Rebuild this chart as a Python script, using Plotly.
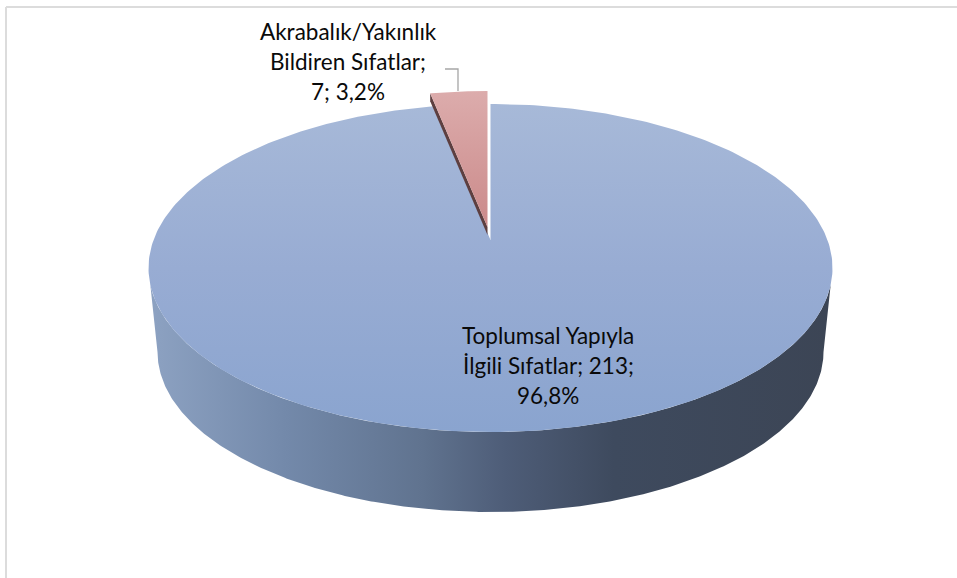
import numpy as np
import plotly.graph_objects as go

# --- data ---
category_lines = [
    ["Toplumsal Yapıyla", "İlgili Sıfatlar;"],
    ["Akrabalık/Yakınlık", "Bildiren Sıfatlar;"],
]
values = [213, 7]

# --- pie geometry (pixel-like axis units) ---
W, H = 957, 578
CX, TOP, BOTTOM, HALF_W = 490.5, 104, 432, 342
APEX_Y = 240
LOW_CY, LOW_RX, LOW_RY = 352, 333, 160
WALL_START_Y = 285
EXPLODE = (-3, -13)
THICK = 8

total = sum(values)
fractions = [v / total for v in values]

up, down = APEX_Y - TOP, BOTTOM - APEX_Y
k = (down - up) / (down + up)
B = up * (1 + k)
A = HALF_W * np.sqrt(1 - k * k)


def rim(theta):
    """Point on the tilted pie rim, theta clockwise from 12 o'clock."""
    X, Y = np.sin(theta), np.cos(theta)
    d = 1 + k * Y
    return CX + A * X / d, APEX_Y - B * Y / d


def wedge(start, end, n=360):
    t = np.linspace(start, end, n)
    x, y = rim(t)
    return np.r_[CX, x, CX], np.r_[APEX_Y, y, APEX_Y]


def poly(x, y, stops, kind, a, b):
    return go.Scatter(
        x=x, y=y, mode="lines", line=dict(width=0), hoverinfo="skip", fill="toself",
        fillgradient=dict(type=kind, colorscale=stops, start=a, stop=b), showlegend=False,
    )


fig = go.Figure()

# outer wall
dy = WALL_START_Y - APEX_Y
t0 = np.arccos(-dy / (B + dy * k))
t = np.linspace(t0, 2 * np.pi - t0, 400)
ux, uy = rim(t)
e = np.linspace(np.pi * 1.5, np.pi * 0.5, 400)
lx = CX + LOW_RX * np.sin(e)
ly = LOW_CY - LOW_RY * np.cos(e)
wall_stops = [[0, "#8da2c2"], [0.2, "#7389aa"], [0.4, "#60738f"], [0.52, "#4e5d78"],
              [0.68, "#3e4a5e"], [1, "#3c4555"]]
fig.add_trace(poly(np.r_[ux, lx], np.r_[uy, ly], wall_stops, "horizontal", 149, 833))

# top face slices, sized from the values
a1 = 2 * np.pi * fractions[0]
bx, by = wedge(0, a1)
top_stops = [[0, "#a7b9d8"], [0.5, "#98acd3"], [1, "#8aa4cf"]]
fig.add_trace(poly(bx, by, top_stops, "vertical", TOP, BOTTOM))

rx, ry = wedge(a1, 2 * np.pi, 60)
rx, ry = rx + EXPLODE[0], ry + EXPLODE[1]
corner_x, corner_y = rx[1], ry[1]
apex_x, apex_y = rx[0], ry[0]
fig.add_trace(go.Scatter(
    x=[apex_x, corner_x, corner_x, apex_x, apex_x],
    y=[apex_y, corner_y, corner_y + THICK, apex_y + THICK, apex_y],
    mode="lines", line=dict(width=0), fill="toself", fillcolor="#5d3f40",
    hoverinfo="skip", showlegend=False,
))
fig.add_trace(poly(rx, ry, [[0, "#dcacac"], [1, "#cb8a8a"]], "vertical", ry.min(), ry.max()))

# leader line
fig.add_trace(go.Scatter(x=[445, 458, 458], y=[69, 69, 91], mode="lines",
                         line=dict(color="#a6a6a6", width=1.3), hoverinfo="skip", showlegend=False))


def pct(v):
    return f"{100 * v / total:.1f}".replace(".", ",") + "%"


label_big = [category_lines[0][0], f"{category_lines[0][1]} {values[0]};", pct(values[0])]
label_small = category_lines[1] + [f"{values[1]}; {pct(values[1])}"]

FONT = dict(family="Lato, 'Open Sans', sans-serif", size=22.5, color="#0a0a0a")
ann = []
for line, y in zip(label_big, (335, 365, 395)):
    ann.append(dict(x=548, y=y, text=line, showarrow=False, xref="x", yref="y", font=FONT))
for line, y in zip(label_small, (31, 61, 91)):
    ann.append(dict(x=348, y=y, text=line, showarrow=False, xref="x", yref="y", font=FONT))

frame = dict(type="line", xref="x", yref="y", line=dict(color="#dcdcdc", width=2))
fig.update_layout(
    width=W, height=H, margin=dict(l=0, r=0, t=0, b=0),
    paper_bgcolor="white", plot_bgcolor="white", showlegend=False,
    xaxis=dict(range=[0, W], visible=False, fixedrange=True),
    yaxis=dict(range=[H, 0], visible=False, fixedrange=True),
    annotations=ann,
    shapes=[dict(frame, x0=6, x1=W, y0=7, y1=7), dict(frame, x0=6, x1=6, y0=7, y1=H)],
)
fig.write_html("out.html", config=dict(displayModeBar=False),
               post_script="document.body.style.margin='0';document.body.style.overflow='hidden';")
